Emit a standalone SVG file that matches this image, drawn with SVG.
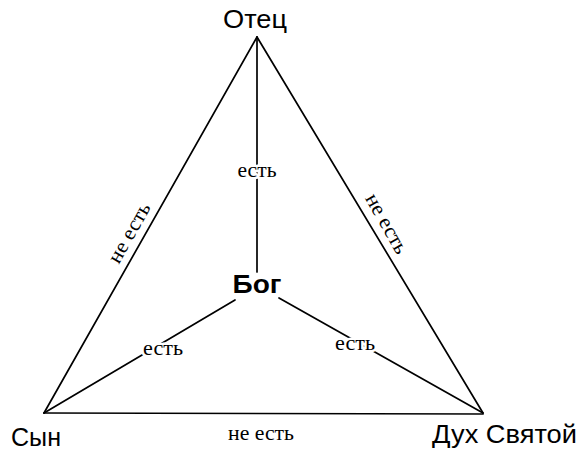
<svg xmlns="http://www.w3.org/2000/svg" width="580" height="450" viewBox="0 0 580 450">
<style>
.edge{stroke:#000;stroke-width:1.7;fill:none;stroke-linecap:round}
.name{font-family:"Liberation Sans",Arial,sans-serif;font-size:25px;fill:#000}
.god{font-family:"Liberation Sans",Arial,sans-serif;font-size:26px;font-weight:bold;fill:#000}
.lbl{font-family:"Liberation Serif","Times New Roman",serif;font-size:21px;fill:#000;stroke:#fff;stroke-width:5;paint-order:stroke;stroke-linejoin:round}
</style>
<rect width="580" height="450" fill="#fff"/>
<g id="connectors">
<line class="edge" x1="257" y1="37" x2="44" y2="413"/>
<line class="edge" x1="257" y1="37" x2="483" y2="413"/>
<line class="edge" x1="44" y1="413" x2="483" y2="414"/>
<line class="edge" x1="257" y1="37" x2="257" y2="272"/>
<line class="edge" x1="235" y1="300" x2="44" y2="413"/>
<line class="edge" x1="279" y1="298" x2="483" y2="413"/>
<text class="lbl" text-anchor="middle" x="257" y="177" textLength="39" lengthAdjust="spacingAndGlyphs">есть</text>
<text class="lbl" text-anchor="middle" x="163" y="355" textLength="40" lengthAdjust="spacingAndGlyphs">есть</text>
<text class="lbl" text-anchor="middle" x="355" y="350" textLength="40" lengthAdjust="spacingAndGlyphs">есть</text>
<text class="lbl" text-anchor="middle" transform="translate(135,236) rotate(-60.5)" textLength="66" lengthAdjust="spacingAndGlyphs">не есть</text>
<text class="lbl" text-anchor="middle" transform="translate(381,227) rotate(60.5)" textLength="66" lengthAdjust="spacingAndGlyphs">не есть</text>
<text class="lbl" text-anchor="middle" x="261" y="440" textLength="66" lengthAdjust="spacingAndGlyphs">не есть</text>
</g>
<g id="father"><text class="name" text-anchor="middle" x="255" y="28" textLength="64" lengthAdjust="spacingAndGlyphs">Отец</text></g>
<g id="son"><text class="name" x="11" y="446" textLength="50" lengthAdjust="spacingAndGlyphs">Сын</text></g>
<g id="spirit"><text class="name" x="432" y="443" textLength="145" lengthAdjust="spacingAndGlyphs">Дух Святой</text></g>
<g id="god"><text class="god" text-anchor="middle" x="257" y="293" textLength="49" lengthAdjust="spacingAndGlyphs">Бог</text></g>
</svg>
